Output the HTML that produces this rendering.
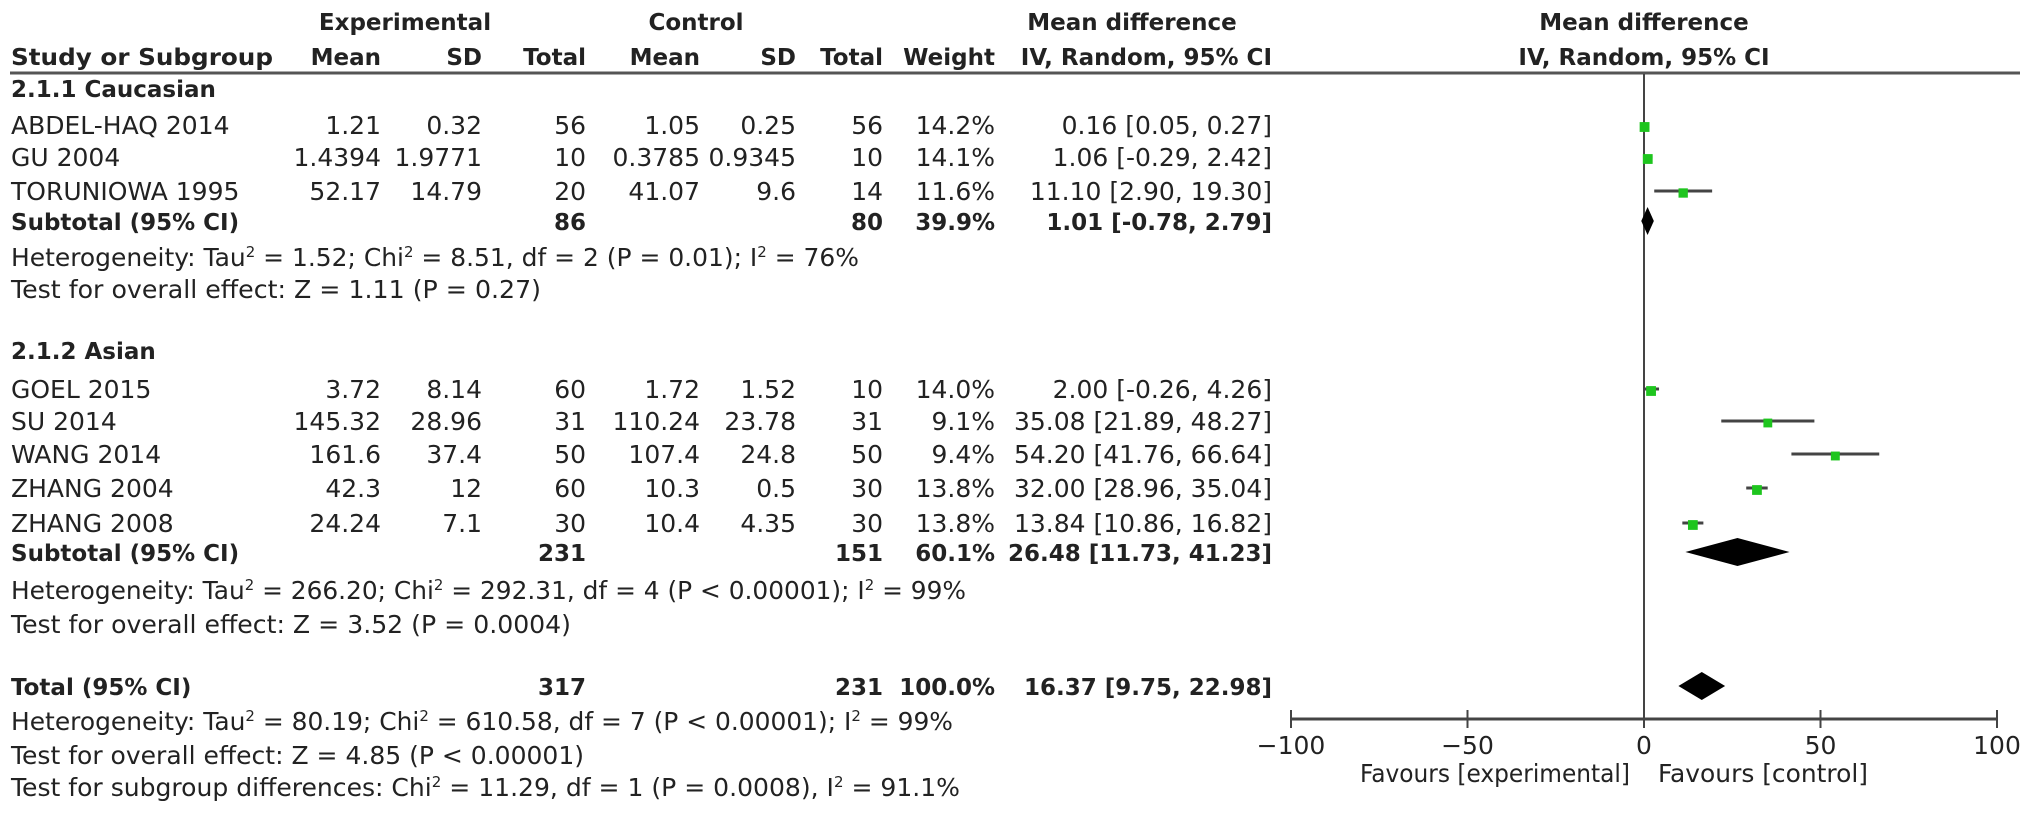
<!DOCTYPE html>
<html><head><meta charset="utf-8"><style>
html,body{margin:0;padding:0;background:#fff;}
svg{display:block;}
text{font-family:"DejaVu Sans","Liberation Sans",sans-serif;font-size:25px;fill:#222;}
.b{font-weight:bold;font-size:23px;}
</style></head><body>
<svg id="chart" width="2031" height="815" viewBox="0 0 2031 815" xmlns="http://www.w3.org/2000/svg">
<g id="table"></g>
<g id="plot"></g>
</svg>
<script>
// ---- data ----
const studyNames = ["ABDEL-HAQ 2014","GU 2004","TORUNIOWA 1995","GOEL 2015","SU 2014","WANG 2014","ZHANG 2004","ZHANG 2008"];
const expMean = ["1.21","1.4394","52.17","3.72","145.32","161.6","42.3","24.24"];
const expSD = ["0.32","1.9771","14.79","8.14","28.96","37.4","12","7.1"];
const expN = ["56","10","20","60","31","50","60","30"];
const ctlMean = ["1.05","0.3785","41.07","1.72","110.24","107.4","10.3","10.4"];
const ctlSD = ["0.25","0.9345","9.6","1.52","23.78","24.8","0.5","4.35"];
const ctlN = ["56","10","14","10","31","50","30","30"];
const weights = [14.2,14.1,11.6,14.0,9.1,9.4,13.8,13.8];
const md = [0.16,1.06,11.10,2.00,35.08,54.20,32.00,13.84];
const ciLo = [0.05,-0.29,2.90,-0.26,21.89,41.76,28.96,10.86];
const ciHi = [0.27,2.42,19.30,4.26,48.27,66.64,35.04,16.82];
const studyBaselines = [134,166,200,398,430,463,497,532];
const pooledNames = ["Subtotal (95% CI)","Subtotal (95% CI)","Total (95% CI)"];
const pooledExpN = ["86","231","317"];
const pooledCtlN = ["80","151","231"];
const pooledWeight = ["39.9%","60.1%","100.0%"];
const pooledMd = [1.01,26.48,16.37];
const pooledLo = [-0.78,11.73,9.75];
const pooledHi = [2.79,41.23,22.98];
const pooledBaselines = [230,561,695];
const xTicks = [-100,-50,0,50,100];

// ---- layout ----
const NS="http://www.w3.org/2000/svg";
const tbl=document.getElementById('table'), plt=document.getElementById('plot');
const X0=1644, SCALE=3.53, AXY=719;
function xs(v){return X0+v*SCALE;}
function mk(tag,attrs,parent){const e=document.createElementNS(NS,tag);for(const k in attrs)e.setAttribute(k,attrs[k]);parent.appendChild(e);return e;}
function txt(s,x,y,anchor,bold,parent,name,len){
  const t=mk('text',{x:x,y:y,'text-anchor':anchor},parent);
  if(bold)t.setAttribute('class','b');
  if(len){t.setAttribute('textLength',len);t.setAttribute('lengthAdjust','spacingAndGlyphs');}
  t.innerHTML=s;
  
  
  return t;
}
const cols=[381,482,586,700,796,883,995,1272];
const sup=(s)=>"<tspan dy='-9' font-size='15'>"+s+"</tspan><tspan dy='9'>";
// headers
txt("Experimental",405,30,'middle',true,tbl,'header-experimental');
txt("Control",696,30,'middle',true,tbl,'header-control');
txt("Mean difference",1132,30,'middle',true,tbl,'header-mean-difference');
txt("Mean difference",X0,30,'middle',true,tbl,'header-plot-mean-difference');
txt("Study or Subgroup",11,65,'start',true,tbl,'header-study',262);
["Mean","SD","Total","Mean","SD","Total","Weight","IV, Random, 95% CI"].forEach((h,i)=>txt(h,cols[i],65,'end',true,tbl,'header-col-'+i));
txt("IV, Random, 95% CI",X0,65,'middle',true,tbl,'header-plot-ci');
const hl=mk('line',{x1:10,y1:73,x2:2020,y2:73,stroke:'#555','stroke-width':3},tbl);


txt("2.1.1 Caucasian",11,97,'start',true,tbl,'subgroup-title-caucasian');
txt("2.1.2 Asian",11,359,'start',true,tbl,'subgroup-title-asian');
// study rows
studyNames.forEach((n,i)=>{
  const y=studyBaselines[i];
  txt(n,11,y,'start',false,tbl,'study-name');
  const vals=[expMean[i],expSD[i],expN[i],ctlMean[i],ctlSD[i],ctlN[i],weights[i].toFixed(1)+'%',
    md[i].toFixed(2)+' ['+ciLo[i].toFixed(2)+', '+ciHi[i].toFixed(2)+']'];
  vals.forEach((v,j)=>txt(v,cols[j],y,'end',false,tbl,'study-cell'));
});
pooledNames.forEach((n,i)=>{
  const y=pooledBaselines[i];
  txt(n,11,y,'start',true,tbl,'pooled-name');
  txt(pooledExpN[i],cols[2],y,'end',true,tbl,'pooled-exp-total');
  txt(pooledCtlN[i],cols[5],y,'end',true,tbl,'pooled-ctl-total');
  txt(pooledWeight[i],cols[6],y,'end',true,tbl,'pooled-weight');
  txt(pooledMd[i].toFixed(2)+' ['+pooledLo[i].toFixed(2)+', '+pooledHi[i].toFixed(2)+']',cols[7],y,'end',true,tbl,'pooled-ci');
});
// stats lines
txt("Heterogeneity: Tau"+sup("2")+" = 1.52; Chi</tspan>"+sup("2")+" = 8.51, df = 2 (P = 0.01); I</tspan>"+sup("2")+" = 76%</tspan>",11,266,'start',false,tbl,'heterogeneity-caucasian',848);
txt("Test for overall effect: Z = 1.11 (P = 0.27)",11,298,'start',false,tbl,'overall-effect-caucasian',530);
txt("Heterogeneity: Tau"+sup("2")+" = 266.20; Chi</tspan>"+sup("2")+" = 292.31, df = 4 (P &lt; 0.00001); I</tspan>"+sup("2")+" = 99%</tspan>",11,599,'start',false,tbl,'heterogeneity-asian',955);
txt("Test for overall effect: Z = 3.52 (P = 0.0004)",11,633,'start',false,tbl,'overall-effect-asian',560);
txt("Heterogeneity: Tau"+sup("2")+" = 80.19; Chi</tspan>"+sup("2")+" = 610.58, df = 7 (P &lt; 0.00001); I</tspan>"+sup("2")+" = 99%</tspan>",11,730,'start',false,tbl,'heterogeneity-total',942);
txt("Test for overall effect: Z = 4.85 (P &lt; 0.00001)",11,764,'start',false,tbl,'overall-effect-total',573);
txt("Test for subgroup differences: Chi"+sup("2")+" = 11.29, df = 1 (P = 0.0008), I</tspan>"+sup("2")+" = 91.1%</tspan>",11,796,'start',false,tbl,'subgroup-differences',949);

// ---- plot ----
const zl=mk('line',{x1:X0,y1:74,x2:X0,y2:AXY,stroke:'#444','stroke-width':2},plt);


const ax=mk('line',{x1:xs(-100),y1:AXY,x2:xs(100),y2:AXY,stroke:'#444','stroke-width':3},plt);


xTicks.forEach(v=>{
  const t=mk('line',{x1:xs(v),y1:AXY-9,x2:xs(v),y2:AXY+9,stroke:'#444','stroke-width':2},plt);
  
  
  txt(v<0?'&#8722;'+Math.abs(v):String(v),xs(v),754,'middle',false,plt,'x-tick-label');
});
txt("Favours [experimental]",X0-14,782,'end',false,plt,'favours-experimental-label',270);
txt("Favours [control]",X0+14,782,'start',false,plt,'favours-control-label',210);
md.forEach((m,i)=>{
  const y=studyBaselines[i]-9;
  const l=mk('line',{x1:xs(ciLo[i]),y1:y,x2:xs(ciHi[i]),y2:y,stroke:'#444','stroke-width':3},plt);
  
  
  const s=7+weights[i]*0.2;
  const r=mk('rect',{x:xs(m)-s/2,y:y-s/2+2,width:s,height:s,fill:'#1ec51e'},plt);
  
  
});
pooledMd.forEach((m,i)=>{
  const y=pooledBaselines[i]-9, h=14;
  const p=mk('polygon',{points:`${xs(pooledLo[i])},${y} ${xs(m)},${y-h} ${xs(pooledHi[i])},${y} ${xs(m)},${y+h}`,fill:'#000'},plt);
  
  
});
</script>
</body></html>
